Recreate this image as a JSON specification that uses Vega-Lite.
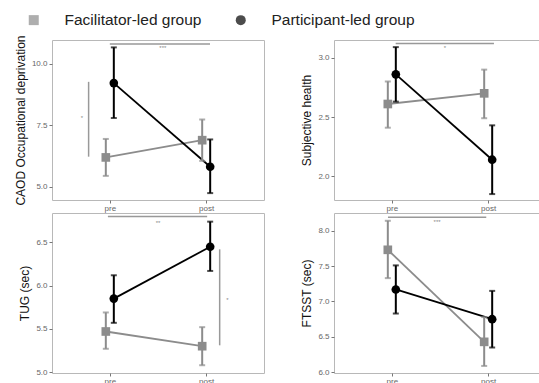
{
  "$schema": "https://vega.github.io/schema/vega-lite/v6.json",
  "padding": {"left": 13, "top": 12, "right": 0, "bottom": 0},
  "datasets": {
    "means": [
      {"measure": "CAOD", "time": "pre", "group": "Facilitator-led group", "mean": 6.2, "lo": 5.45, "hi": 6.95},
      {"measure": "CAOD", "time": "post", "group": "Facilitator-led group", "mean": 6.9, "lo": 6.06, "hi": 7.74},
      {"measure": "CAOD", "time": "pre", "group": "Participant-led group", "mean": 9.22, "lo": 7.8, "hi": 10.67},
      {"measure": "CAOD", "time": "post", "group": "Participant-led group", "mean": 5.82, "lo": 4.75, "hi": 6.93},
      {"measure": "Subjective", "time": "pre", "group": "Facilitator-led group", "mean": 2.61, "lo": 2.41, "hi": 2.8},
      {"measure": "Subjective", "time": "post", "group": "Facilitator-led group", "mean": 2.7, "lo": 2.49, "hi": 2.9},
      {"measure": "Subjective", "time": "pre", "group": "Participant-led group", "mean": 2.86, "lo": 2.63, "hi": 3.09},
      {"measure": "Subjective", "time": "post", "group": "Participant-led group", "mean": 2.14, "lo": 1.85, "hi": 2.43},
      {"measure": "TUG", "time": "pre", "group": "Facilitator-led group", "mean": 5.47, "lo": 5.27, "hi": 5.69},
      {"measure": "TUG", "time": "post", "group": "Facilitator-led group", "mean": 5.3, "lo": 5.08, "hi": 5.52},
      {"measure": "TUG", "time": "pre", "group": "Participant-led group", "mean": 5.85, "lo": 5.57, "hi": 6.12},
      {"measure": "TUG", "time": "post", "group": "Participant-led group", "mean": 6.45, "lo": 6.17, "hi": 6.74},
      {"measure": "FTSST", "time": "pre", "group": "Facilitator-led group", "mean": 7.73, "lo": 7.33, "hi": 8.14},
      {"measure": "FTSST", "time": "post", "group": "Facilitator-led group", "mean": 6.43, "lo": 6.09, "hi": 6.78},
      {"measure": "FTSST", "time": "pre", "group": "Participant-led group", "mean": 7.17, "lo": 6.83, "hi": 7.51},
      {"measure": "FTSST", "time": "post", "group": "Participant-led group", "mean": 6.75, "lo": 6.35, "hi": 7.15}
    ],
    "sig": [
      {"measure": "CAOD", "x": 1.0, "x2": 2.04, "y": 10.81, "y2": 10.81, "label": "***", "lx": 1.55, "ly": 10.63},
      {"measure": "CAOD", "x": 0.78, "x2": 0.78, "y": 9.27, "y2": 6.23, "label": "*", "lx": 0.71, "ly": 7.8},
      {"measure": "Subjective", "x": 1.04, "x2": 2.06, "y": 3.12, "y2": 3.12, "label": "*", "lx": 1.55, "ly": 3.085},
      {"measure": "TUG", "x": 0.98, "x2": 2.01, "y": 6.8, "y2": 6.8, "label": "**", "lx": 1.5, "ly": 6.73},
      {"measure": "TUG", "x": 2.14, "x2": 2.14, "y": 6.42, "y2": 5.31, "label": "*", "lx": 2.22, "ly": 5.83},
      {"measure": "FTSST", "x": 0.96, "x2": 1.98, "y": 8.19, "y2": 8.19, "label": "***", "lx": 1.47, "ly": 8.12}
    ]
  },
  "config": {
    "font": "Liberation Sans",
    "view": {"stroke": "#b8b8b8", "strokeWidth": 1},
    "axis": {"grid": false, "domain": false, "ticks": true, "tickColor": "#777", "tickSize": 3, "labelColor": "#666", "labelFontSize": 8, "labelPadding": 2, "titleFontSize": 12, "titleColor": "#111", "titleFontWeight": "normal"},
    "axisX": {"labelColor": "#666", "labelPadding": 1},
    "axisY": {"titlePadding": 4, "labelColor": "#666"},
    "legend": {"orient": "none", "legendX": -26, "legendY": -28, "direction": "horizontal", "title": null, "labelFontSize": 15.5, "labelColor": "#222", "symbolSize": 100, "labelOffset": 23, "columnPadding": 31, "symbolStrokeWidth": 0}
  },
  "concat": [
    {
      "width": 212, "height": 160,
      "resolve": {"scale": {"x": "independent"}},
      "layer": [
        {
          "data": {"name": "means"},
          "transform": [{"filter": "datum.measure === 'CAOD'"}],
          "encoding": {
            "x": {"field": "time", "type": "ordinal", "sort": ["pre", "post"], "scale": {"type": "point", "domain": ["pre", "post"], "padding": 0.6}, "axis": {"title": null, "labelAngle": 0, "labelColor": "#666"}},
            "xOffset": {"field": "group", "type": "nominal", "scale": {"type": "point", "domain": ["Facilitator-led group", "Participant-led group"], "range": [-4, 4], "padding": 0}},
            "color": {"field": "group", "type": "nominal", "scale": {"domain": ["Facilitator-led group", "Participant-led group"], "range": ["#8c8c8c", "#000000"]}},
            "y": {"field": "mean", "type": "quantitative", "scale": {"domain": [4.47, 10.97], "nice": false, "zero": false}, "axis": {"title": "CAOD Occupational deprivation", "values": [5, 7.5, 10], "format": ".1f"}}
          },
          "layer": [
            {"mark": {"type": "line", "strokeWidth": 1.8}},
            {"mark": {"type": "rule", "strokeWidth": 2}, "encoding": {"y": {"field": "lo", "type": "quantitative", "axis": {"title": "CAOD Occupational deprivation", "values": [5, 7.5, 10], "format": ".1f"}}, "y2": {"field": "hi"}}},
            {"mark": {"type": "tick", "thickness": 2, "size": 6}, "encoding": {"y": {"field": "lo", "type": "quantitative", "axis": {"title": "CAOD Occupational deprivation", "values": [5, 7.5, 10], "format": ".1f"}}}},
            {"mark": {"type": "tick", "thickness": 2, "size": 6}, "encoding": {"y": {"field": "hi", "type": "quantitative", "axis": {"title": "CAOD Occupational deprivation", "values": [5, 7.5, 10], "format": ".1f"}}}},
            {"mark": {"type": "point", "filled": true, "size": 75, "opacity": 1}, "encoding": {"shape": {"field": "group", "type": "nominal", "scale": {"domain": ["Facilitator-led group", "Participant-led group"], "range": ["square", "circle"]}}}}
          ]
        },
        {
          "data": {"name": "sig"},
          "transform": [{"filter": "datum.measure === 'CAOD'"}],
          "layer": [
            {"mark": {"type": "rule", "color": "#999", "strokeWidth": 1.5}, "encoding": {"x": {"field": "x", "type": "quantitative", "scale": {"domain": [0.4, 2.6], "nice": false, "zero": false}, "axis": null}, "x2": {"field": "x2"}, "y": {"field": "y", "type": "quantitative", "axis": {"title": "CAOD Occupational deprivation", "values": [5, 7.5, 10], "format": ".1f"}}, "y2": {"field": "y2"}}},
            {"mark": {"type": "text", "color": "#888", "fontSize": 6, "baseline": "middle"}, "encoding": {"x": {"field": "lx", "type": "quantitative", "axis": null}, "y": {"field": "ly", "type": "quantitative", "axis": {"title": "CAOD Occupational deprivation", "values": [5, 7.5, 10], "format": ".1f"}}, "text": {"field": "label"}}}
          ]
        }
      ]
    },
    {
      "width": 212, "height": 160,
      "resolve": {"scale": {"x": "independent"}},
      "layer": [
        {
          "data": {"name": "means"},
          "transform": [{"filter": "datum.measure === 'Subjective'"}],
          "encoding": {
            "x": {"field": "time", "type": "ordinal", "sort": ["pre", "post"], "scale": {"type": "point", "domain": ["pre", "post"], "padding": 0.6}, "axis": {"title": null, "labelAngle": 0, "labelColor": "#666"}},
            "xOffset": {"field": "group", "type": "nominal", "scale": {"type": "point", "domain": ["Facilitator-led group", "Participant-led group"], "range": [-4, 4], "padding": 0}},
            "color": {"field": "group", "type": "nominal", "scale": {"domain": ["Facilitator-led group", "Participant-led group"], "range": ["#8c8c8c", "#000000"]}},
            "y": {"field": "mean", "type": "quantitative", "scale": {"domain": [1.8, 3.15], "nice": false, "zero": false}, "axis": {"title": "Subjective health", "values": [2, 2.5, 3], "format": ".1f"}}
          },
          "layer": [
            {"mark": {"type": "line", "strokeWidth": 1.8}},
            {"mark": {"type": "rule", "strokeWidth": 2}, "encoding": {"y": {"field": "lo", "type": "quantitative", "axis": {"title": "Subjective health", "values": [2, 2.5, 3], "format": ".1f"}}, "y2": {"field": "hi"}}},
            {"mark": {"type": "tick", "thickness": 2, "size": 6}, "encoding": {"y": {"field": "lo", "type": "quantitative", "axis": {"title": "Subjective health", "values": [2, 2.5, 3], "format": ".1f"}}}},
            {"mark": {"type": "tick", "thickness": 2, "size": 6}, "encoding": {"y": {"field": "hi", "type": "quantitative", "axis": {"title": "Subjective health", "values": [2, 2.5, 3], "format": ".1f"}}}},
            {"mark": {"type": "point", "filled": true, "size": 75, "opacity": 1}, "encoding": {"shape": {"field": "group", "type": "nominal", "scale": {"domain": ["Facilitator-led group", "Participant-led group"], "range": ["square", "circle"]}}}}
          ]
        },
        {
          "data": {"name": "sig"},
          "transform": [{"filter": "datum.measure === 'Subjective'"}],
          "layer": [
            {"mark": {"type": "rule", "color": "#999", "strokeWidth": 1.5}, "encoding": {"x": {"field": "x", "type": "quantitative", "scale": {"domain": [0.4, 2.6], "nice": false, "zero": false}, "axis": null}, "x2": {"field": "x2"}, "y": {"field": "y", "type": "quantitative", "axis": {"title": "Subjective health", "values": [2, 2.5, 3], "format": ".1f"}}, "y2": {"field": "y2"}}},
            {"mark": {"type": "text", "color": "#888", "fontSize": 6, "baseline": "middle"}, "encoding": {"x": {"field": "lx", "type": "quantitative", "axis": null}, "y": {"field": "ly", "type": "quantitative", "axis": {"title": "Subjective health", "values": [2, 2.5, 3], "format": ".1f"}}, "text": {"field": "label"}}}
          ]
        }
      ]
    },
    {
      "width": 212, "height": 160,
      "resolve": {"scale": {"x": "independent"}},
      "layer": [
        {
          "data": {"name": "means"},
          "transform": [{"filter": "datum.measure === 'TUG'"}],
          "encoding": {
            "x": {"field": "time", "type": "ordinal", "sort": ["pre", "post"], "scale": {"type": "point", "domain": ["pre", "post"], "padding": 0.6}, "axis": {"title": null, "labelAngle": 0, "labelColor": "#666"}},
            "xOffset": {"field": "group", "type": "nominal", "scale": {"type": "point", "domain": ["Facilitator-led group", "Participant-led group"], "range": [-4, 4], "padding": 0}},
            "color": {"field": "group", "type": "nominal", "scale": {"domain": ["Facilitator-led group", "Participant-led group"], "range": ["#8c8c8c", "#000000"]}},
            "y": {"field": "mean", "type": "quantitative", "scale": {"domain": [4.99, 6.84], "nice": false, "zero": false}, "axis": {"title": "TUG (sec)", "values": [5, 5.5, 6, 6.5], "format": ".1f"}}
          },
          "layer": [
            {"mark": {"type": "line", "strokeWidth": 1.8}},
            {"mark": {"type": "rule", "strokeWidth": 2}, "encoding": {"y": {"field": "lo", "type": "quantitative", "axis": {"title": "TUG (sec)", "values": [5, 5.5, 6, 6.5], "format": ".1f"}}, "y2": {"field": "hi"}}},
            {"mark": {"type": "tick", "thickness": 2, "size": 6}, "encoding": {"y": {"field": "lo", "type": "quantitative", "axis": {"title": "TUG (sec)", "values": [5, 5.5, 6, 6.5], "format": ".1f"}}}},
            {"mark": {"type": "tick", "thickness": 2, "size": 6}, "encoding": {"y": {"field": "hi", "type": "quantitative", "axis": {"title": "TUG (sec)", "values": [5, 5.5, 6, 6.5], "format": ".1f"}}}},
            {"mark": {"type": "point", "filled": true, "size": 75, "opacity": 1}, "encoding": {"shape": {"field": "group", "type": "nominal", "scale": {"domain": ["Facilitator-led group", "Participant-led group"], "range": ["square", "circle"]}}}}
          ]
        },
        {
          "data": {"name": "sig"},
          "transform": [{"filter": "datum.measure === 'TUG'"}],
          "layer": [
            {"mark": {"type": "rule", "color": "#999", "strokeWidth": 1.5}, "encoding": {"x": {"field": "x", "type": "quantitative", "scale": {"domain": [0.4, 2.6], "nice": false, "zero": false}, "axis": null}, "x2": {"field": "x2"}, "y": {"field": "y", "type": "quantitative", "axis": {"title": "TUG (sec)", "values": [5, 5.5, 6, 6.5], "format": ".1f"}}, "y2": {"field": "y2"}}},
            {"mark": {"type": "text", "color": "#888", "fontSize": 6, "baseline": "middle"}, "encoding": {"x": {"field": "lx", "type": "quantitative", "axis": null}, "y": {"field": "ly", "type": "quantitative", "axis": {"title": "TUG (sec)", "values": [5, 5.5, 6, 6.5], "format": ".1f"}}, "text": {"field": "label"}}}
          ]
        }
      ]
    },
    {
      "width": 212, "height": 160,
      "resolve": {"scale": {"x": "independent"}},
      "layer": [
        {
          "data": {"name": "means"},
          "transform": [{"filter": "datum.measure === 'FTSST'"}],
          "encoding": {
            "x": {"field": "time", "type": "ordinal", "sort": ["pre", "post"], "scale": {"type": "point", "domain": ["pre", "post"], "padding": 0.6}, "axis": {"title": null, "labelAngle": 0, "labelColor": "#666"}},
            "xOffset": {"field": "group", "type": "nominal", "scale": {"type": "point", "domain": ["Facilitator-led group", "Participant-led group"], "range": [-4, 4], "padding": 0}},
            "color": {"field": "group", "type": "nominal", "scale": {"domain": ["Facilitator-led group", "Participant-led group"], "range": ["#8c8c8c", "#000000"]}},
            "y": {"field": "mean", "type": "quantitative", "scale": {"domain": [5.99, 8.25], "nice": false, "zero": false}, "axis": {"title": "FTSST (sec)", "values": [6, 6.5, 7, 7.5, 8], "format": ".1f"}}
          },
          "layer": [
            {"mark": {"type": "line", "strokeWidth": 1.8}},
            {"mark": {"type": "rule", "strokeWidth": 2}, "encoding": {"y": {"field": "lo", "type": "quantitative", "axis": {"title": "FTSST (sec)", "values": [6, 6.5, 7, 7.5, 8], "format": ".1f"}}, "y2": {"field": "hi"}}},
            {"mark": {"type": "tick", "thickness": 2, "size": 6}, "encoding": {"y": {"field": "lo", "type": "quantitative", "axis": {"title": "FTSST (sec)", "values": [6, 6.5, 7, 7.5, 8], "format": ".1f"}}}},
            {"mark": {"type": "tick", "thickness": 2, "size": 6}, "encoding": {"y": {"field": "hi", "type": "quantitative", "axis": {"title": "FTSST (sec)", "values": [6, 6.5, 7, 7.5, 8], "format": ".1f"}}}},
            {"mark": {"type": "point", "filled": true, "size": 75, "opacity": 1}, "encoding": {"shape": {"field": "group", "type": "nominal", "scale": {"domain": ["Facilitator-led group", "Participant-led group"], "range": ["square", "circle"]}}}}
          ]
        },
        {
          "data": {"name": "sig"},
          "transform": [{"filter": "datum.measure === 'FTSST'"}],
          "layer": [
            {"mark": {"type": "rule", "color": "#999", "strokeWidth": 1.5}, "encoding": {"x": {"field": "x", "type": "quantitative", "scale": {"domain": [0.4, 2.6], "nice": false, "zero": false}, "axis": null}, "x2": {"field": "x2"}, "y": {"field": "y", "type": "quantitative", "axis": {"title": "FTSST (sec)", "values": [6, 6.5, 7, 7.5, 8], "format": ".1f"}}, "y2": {"field": "y2"}}},
            {"mark": {"type": "text", "color": "#888", "fontSize": 6, "baseline": "middle"}, "encoding": {"x": {"field": "lx", "type": "quantitative", "axis": null}, "y": {"field": "ly", "type": "quantitative", "axis": {"title": "FTSST (sec)", "values": [6, 6.5, 7, 7.5, 8], "format": ".1f"}}, "text": {"field": "label"}}}
          ]
        }
      ]
    }
  ],
  "columns": 2,
  "spacing": {"row": -3, "column": 35}
}
